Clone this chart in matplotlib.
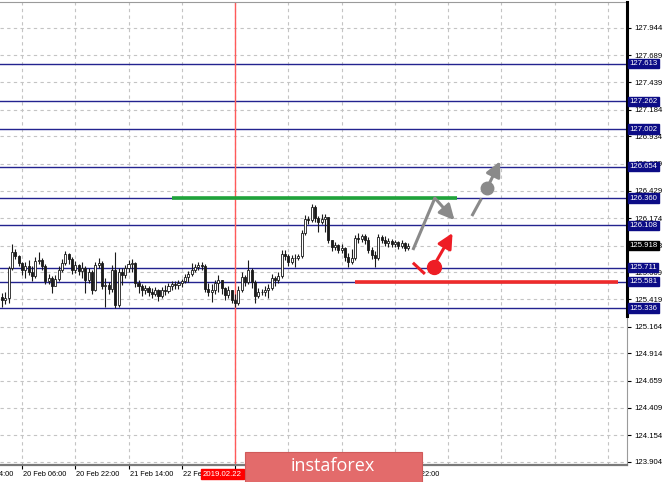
import numpy as np
import matplotlib
matplotlib.use("Agg")
import matplotlib.pyplot as plt
from matplotlib.patches import Rectangle

# hourly candles, bar 0 = 20 Feb 00:00
close = [125.411, 125.430, 125.709, 125.858, 125.821, 125.756, 125.691, 125.728, 125.672, 125.635,
         125.775, 125.784, 125.728, 125.588, 125.616, 125.542, 125.607, 125.691, 125.756, 125.840,
         125.793, 125.691, 125.737, 125.682, 125.709, 125.598, 125.672, 125.505, 125.737, 125.756,
         125.542, 125.551, 125.514, 125.691, 125.365, 125.672, 125.644, 125.709, 125.747, 125.756,
         125.570, 125.542, 125.505, 125.523, 125.486, 125.467, 125.505, 125.449, 125.505, 125.495,
         125.542, 125.561, 125.551, 125.570, 125.588, 125.626, 125.654, 125.691, 125.719, 125.737,
         125.728, 125.514, 125.486, 125.505, 125.570, 125.598, 125.523, 125.458, 125.505, 125.411,
         125.384, 125.505, 125.626, 125.579, 125.691, 125.579, 125.449, 125.486, 125.486, 125.505,
         125.523, 125.616, 125.598, 125.635, 125.840, 125.821, 125.765, 125.803, 125.803, 125.821,
         126.035, 126.166, 126.156, 126.277, 126.175, 126.138, 126.166, 126.184, 125.970, 125.905,
         125.924, 125.877, 125.896, 125.812, 125.765, 125.803, 125.989, 125.980, 126.007, 125.970,
         125.877, 125.830, 125.803, 125.998, 125.970, 125.942, 125.961, 125.933, 125.951, 125.914,
         125.942, 125.896, 125.918]
high = [125.477, 125.486, 125.728, 125.933, 125.886, 125.830, 125.765, 125.765, 125.784, 125.728,
        125.812, 125.858, 125.803, 125.747, 125.654, 125.635, 125.644, 125.728, 125.793, 125.868,
        125.849, 125.812, 125.775, 125.747, 125.765, 125.728, 125.709, 125.691, 125.765, 125.803,
        125.775, 125.616, 125.579, 125.737, 125.858, 125.709, 125.709, 125.737, 125.784, 125.793,
        125.765, 125.598, 125.561, 125.551, 125.542, 125.523, 125.533, 125.514, 125.533, 125.551,
        125.570, 125.588, 125.588, 125.598, 125.607, 125.654, 125.682, 125.756, 125.747, 125.765,
        125.765, 125.747, 125.570, 125.561, 125.598, 125.644, 125.598, 125.533, 125.542, 125.505,
        125.467, 125.542, 125.672, 125.644, 125.784, 125.709, 125.598, 125.523, 125.514, 125.542,
        125.561, 125.654, 125.635, 125.672, 125.877, 125.877, 125.840, 125.830, 125.840, 125.840,
        126.063, 126.203, 126.193, 126.305, 126.296, 126.193, 126.212, 126.212, 126.138, 125.970,
        125.951, 125.933, 125.933, 125.905, 125.849, 125.886, 126.017, 126.035, 126.026, 126.026,
        125.998, 125.905, 125.868, 126.026, 126.017, 126.007, 125.989, 125.980, 125.970, 125.961,
        125.970, 125.951, 125.942]
low = [125.346, 125.374, 125.384, 125.691, 125.793, 125.728, 125.644, 125.616, 125.644, 125.588,
       125.616, 125.747, 125.691, 125.561, 125.561, 125.477, 125.561, 125.588, 125.672, 125.737,
       125.747, 125.654, 125.663, 125.644, 125.616, 125.477, 125.570, 125.467, 125.495, 125.709,
       125.514, 125.346, 125.467, 125.486, 125.337, 125.346, 125.551, 125.616, 125.672, 125.672,
       125.533, 125.477, 125.449, 125.467, 125.449, 125.430, 125.449, 125.402, 125.430, 125.458,
       125.477, 125.505, 125.514, 125.514, 125.533, 125.570, 125.579, 125.635, 125.672, 125.691,
       125.691, 125.486, 125.449, 125.393, 125.467, 125.486, 125.467, 125.411, 125.430, 125.384,
       125.346, 125.365, 125.486, 125.542, 125.561, 125.523, 125.384, 125.430, 125.458, 125.449,
       125.430, 125.505, 125.542, 125.570, 125.616, 125.784, 125.728, 125.747, 125.719, 125.784,
       125.803, 126.017, 126.119, 126.138, 126.138, 126.045, 126.119, 126.045, 125.942, 125.868,
       125.877, 125.849, 125.849, 125.775, 125.719, 125.747, 125.784, 125.942, 125.951, 125.933,
       125.849, 125.793, 125.719, 125.784, 125.942, 125.914, 125.905, 125.905, 125.905, 125.886,
       125.896, 125.868, 125.877]
first_open = 125.440

levels = [127.613, 127.262, 127.002, 126.654, 126.360, 126.108, 125.711, 125.581, 125.336]
price_ticks = [127.944, 127.689, 127.439, 127.184, 126.934, 126.679, 126.429, 126.174,
               125.918, 125.669, 125.419, 125.164, 124.914, 124.659, 124.409, 124.154, 123.904]
time_ticks = [-10, 6, 22, 38, 54, 70, 86, 102, 118]
time_labels = ["19 Feb 14:00", "20 Feb 06:00", "20 Feb 22:00", "21 Feb 14:00", "22 Feb 06:00",
               "22 Feb 22:00", "25 Feb 14:00", "26 Feb 06:00", "26 Feb 22:00"]
grid_ticks = [6, 22, 38, 54, 70, 86, 102, 118, 134, 150, 166, 182]
last_price = 125.918
marker_bar = 70

# forecast sketch (bar index, price)
green_level = (51, 136.5, 126.360)
red_level = (106, 185, 125.581)
gray_path = [(123.4, 125.877), (130.0, 126.360)]
gray_arrow = [(130.0, 126.360), (135.9, 126.155)]
gray_dash = [(141.1, 126.193), (144.0, 126.357)]
gray_dot = (145.6, 126.451)
gray_arrow2 = [(146.3, 126.493), (149.6, 126.703)]
red_path = [(123.4, 125.758), (127.0, 125.654)]
red_dot = (129.7, 125.719)
red_arrow = [(130.4, 125.770), (135.3, 126.035)]

opens = [first_open] + close[:-1]

W, H = 665, 482
XMIN, XMAX = -0.6, 187.7
fig = plt.figure(figsize=(W / 100, H / 100), dpi=100)
fig.patch.set_facecolor("white")
ax = fig.add_axes([0, 17 / H, 627 / W, 463 / H])

# grid
for p in price_ticks:
    ax.axhline(p, color="#c4c4c4", lw=0.8, ls=(0, (3, 3)), zorder=0)
for t in grid_ticks:
    ax.axvline(t, color="#c4c4c4", lw=0.8, ls=(0, (3, 3)), zorder=0)

# levels
for lv in levels:
    ax.axhline(lv, color="#23238f", lw=1.0, zorder=1)
    ax.text(1.004, lv, f"{lv:.3f}", transform=ax.get_yaxis_transform(), ha="left", va="center",
            fontsize=5.6, family="Liberation Sans", color="white", zorder=10, clip_on=False,
            bbox=dict(boxstyle="square,pad=0.15", fc="#0c0c86", ec="#0c0c86"))
ax.text(1.004, last_price, f"{last_price:.3f}", transform=ax.get_yaxis_transform(), ha="left",
        va="center", fontsize=5.6, family="Liberation Sans", color="white", zorder=11, clip_on=False,
        bbox=dict(boxstyle="square,pad=0.15", fc="black", ec="black"))

ax.axvline(marker_bar, color="#ff5a5a", lw=1.0, zorder=2)

# candles
x = np.arange(len(close))
o = np.array(opens)
c = np.array(close)
ax.vlines(x, low, high, color="#1a1a1a", lw=0.8, zorder=3)
bull = c >= o
ax.bar(x[bull], c[bull] - o[bull], bottom=o[bull], width=0.62, color="white",
       edgecolor="#1a1a1a", linewidth=0.6, zorder=4)
ax.bar(x[~bull], o[~bull] - c[~bull], bottom=c[~bull], width=0.62, color="#1a1a1a",
       edgecolor="#1a1a1a", linewidth=0.6, zorder=4)

# drawn levels and arrows
ax.hlines(green_level[2], green_level[0], green_level[1], color="#1fa33a", lw=2.6, zorder=5)
ax.hlines(red_level[2], red_level[0], red_level[1], color="#ee2b2b", lw=2.6, zorder=5)

gray = "#8a8a8a"
red = "#ee1d25"
head = "-|>,head_length=0.9,head_width=0.45"
ax.plot(*zip(*gray_path), color=gray, lw=2.2, solid_capstyle="butt", zorder=6)
ax.annotate("", xy=gray_arrow[1], xytext=gray_arrow[0],
            arrowprops=dict(arrowstyle=head, color=gray, lw=2.2, shrinkA=0, shrinkB=0), zorder=6)
ax.plot(*zip(*gray_dash), color=gray, lw=2.2, solid_capstyle="butt", zorder=6)
ax.plot(*gray_dot, "o", ms=9, color=gray, zorder=6)
ax.annotate("", xy=gray_arrow2[1], xytext=gray_arrow2[0],
            arrowprops=dict(arrowstyle=head, color=gray, lw=2.2, shrinkA=0, shrinkB=0), zorder=6)
ax.plot(*zip(*red_path), color=red, lw=2.2, solid_capstyle="butt", zorder=6)
ax.plot(*red_dot, "o", ms=10, color=red, zorder=6)
ax.annotate("", xy=red_arrow[1], xytext=red_arrow[0],
            arrowprops=dict(arrowstyle=head, color=red, lw=2.2, shrinkA=0, shrinkB=0), zorder=6)

# axes styling
ax.spines["left"].set_visible(False)
ax.spines["top"].set_color("#9a9a9a")
ax.spines["bottom"].set_color("#7a7a7a")
ax.spines["bottom"].set_linewidth(1.6)
ax.spines["right"].set_color("#9a9a9a")
ax.axvline(XMAX, ymin=(465 - 316) / 463, ymax=1, color="black", lw=2.2, zorder=9, clip_on=False)

ax.yaxis.tick_right()
ax.set_yticks(price_ticks)
ax.set_yticklabels([f"{p:.3f}" for p in price_ticks])
ax.tick_params(axis="y", length=3, width=0.8, pad=2, labelsize=5.6, colors="black")
for lab in ax.get_yticklabels():
    lab.set_family("Liberation Sans")
ax.set_xticks(time_ticks)
ax.set_xticklabels([])
ax.tick_params(axis="x", length=3, width=0.8)
for t, lab in zip(time_ticks, time_labels):
    ax.text(t + 0.3, -0.012, lab, transform=ax.get_xaxis_transform(), ha="left", va="top",
            fontsize=5.3, family="Liberation Sans", color="black", clip_on=False)

ax.set_xlim(XMIN, XMAX)
ax.set_ylim(123.875, 128.186)

# date marker and logo
fig.text(222.5 / W, 1 - 474 / H, "2019.02.22", ha="center", va="center", fontsize=5.6,
         family="Liberation Sans", color="white", zorder=12,
         bbox=dict(boxstyle="square,pad=0.2", fc="#ff0000", ec="#ff0000"))
fig.patches.append(Rectangle((245 / W, 0), 177 / W, 30 / H, transform=fig.transFigure,
                             fc="#e36b6b", ec="#d05a5a", lw=0.8, zorder=13))
fig.text(333 / W, 1 - 466 / H, "instaforex", ha="center", va="center", fontsize=13,
         family="Open Sans", color="white", zorder=14)

fig.savefig("out.png", dpi=100)
